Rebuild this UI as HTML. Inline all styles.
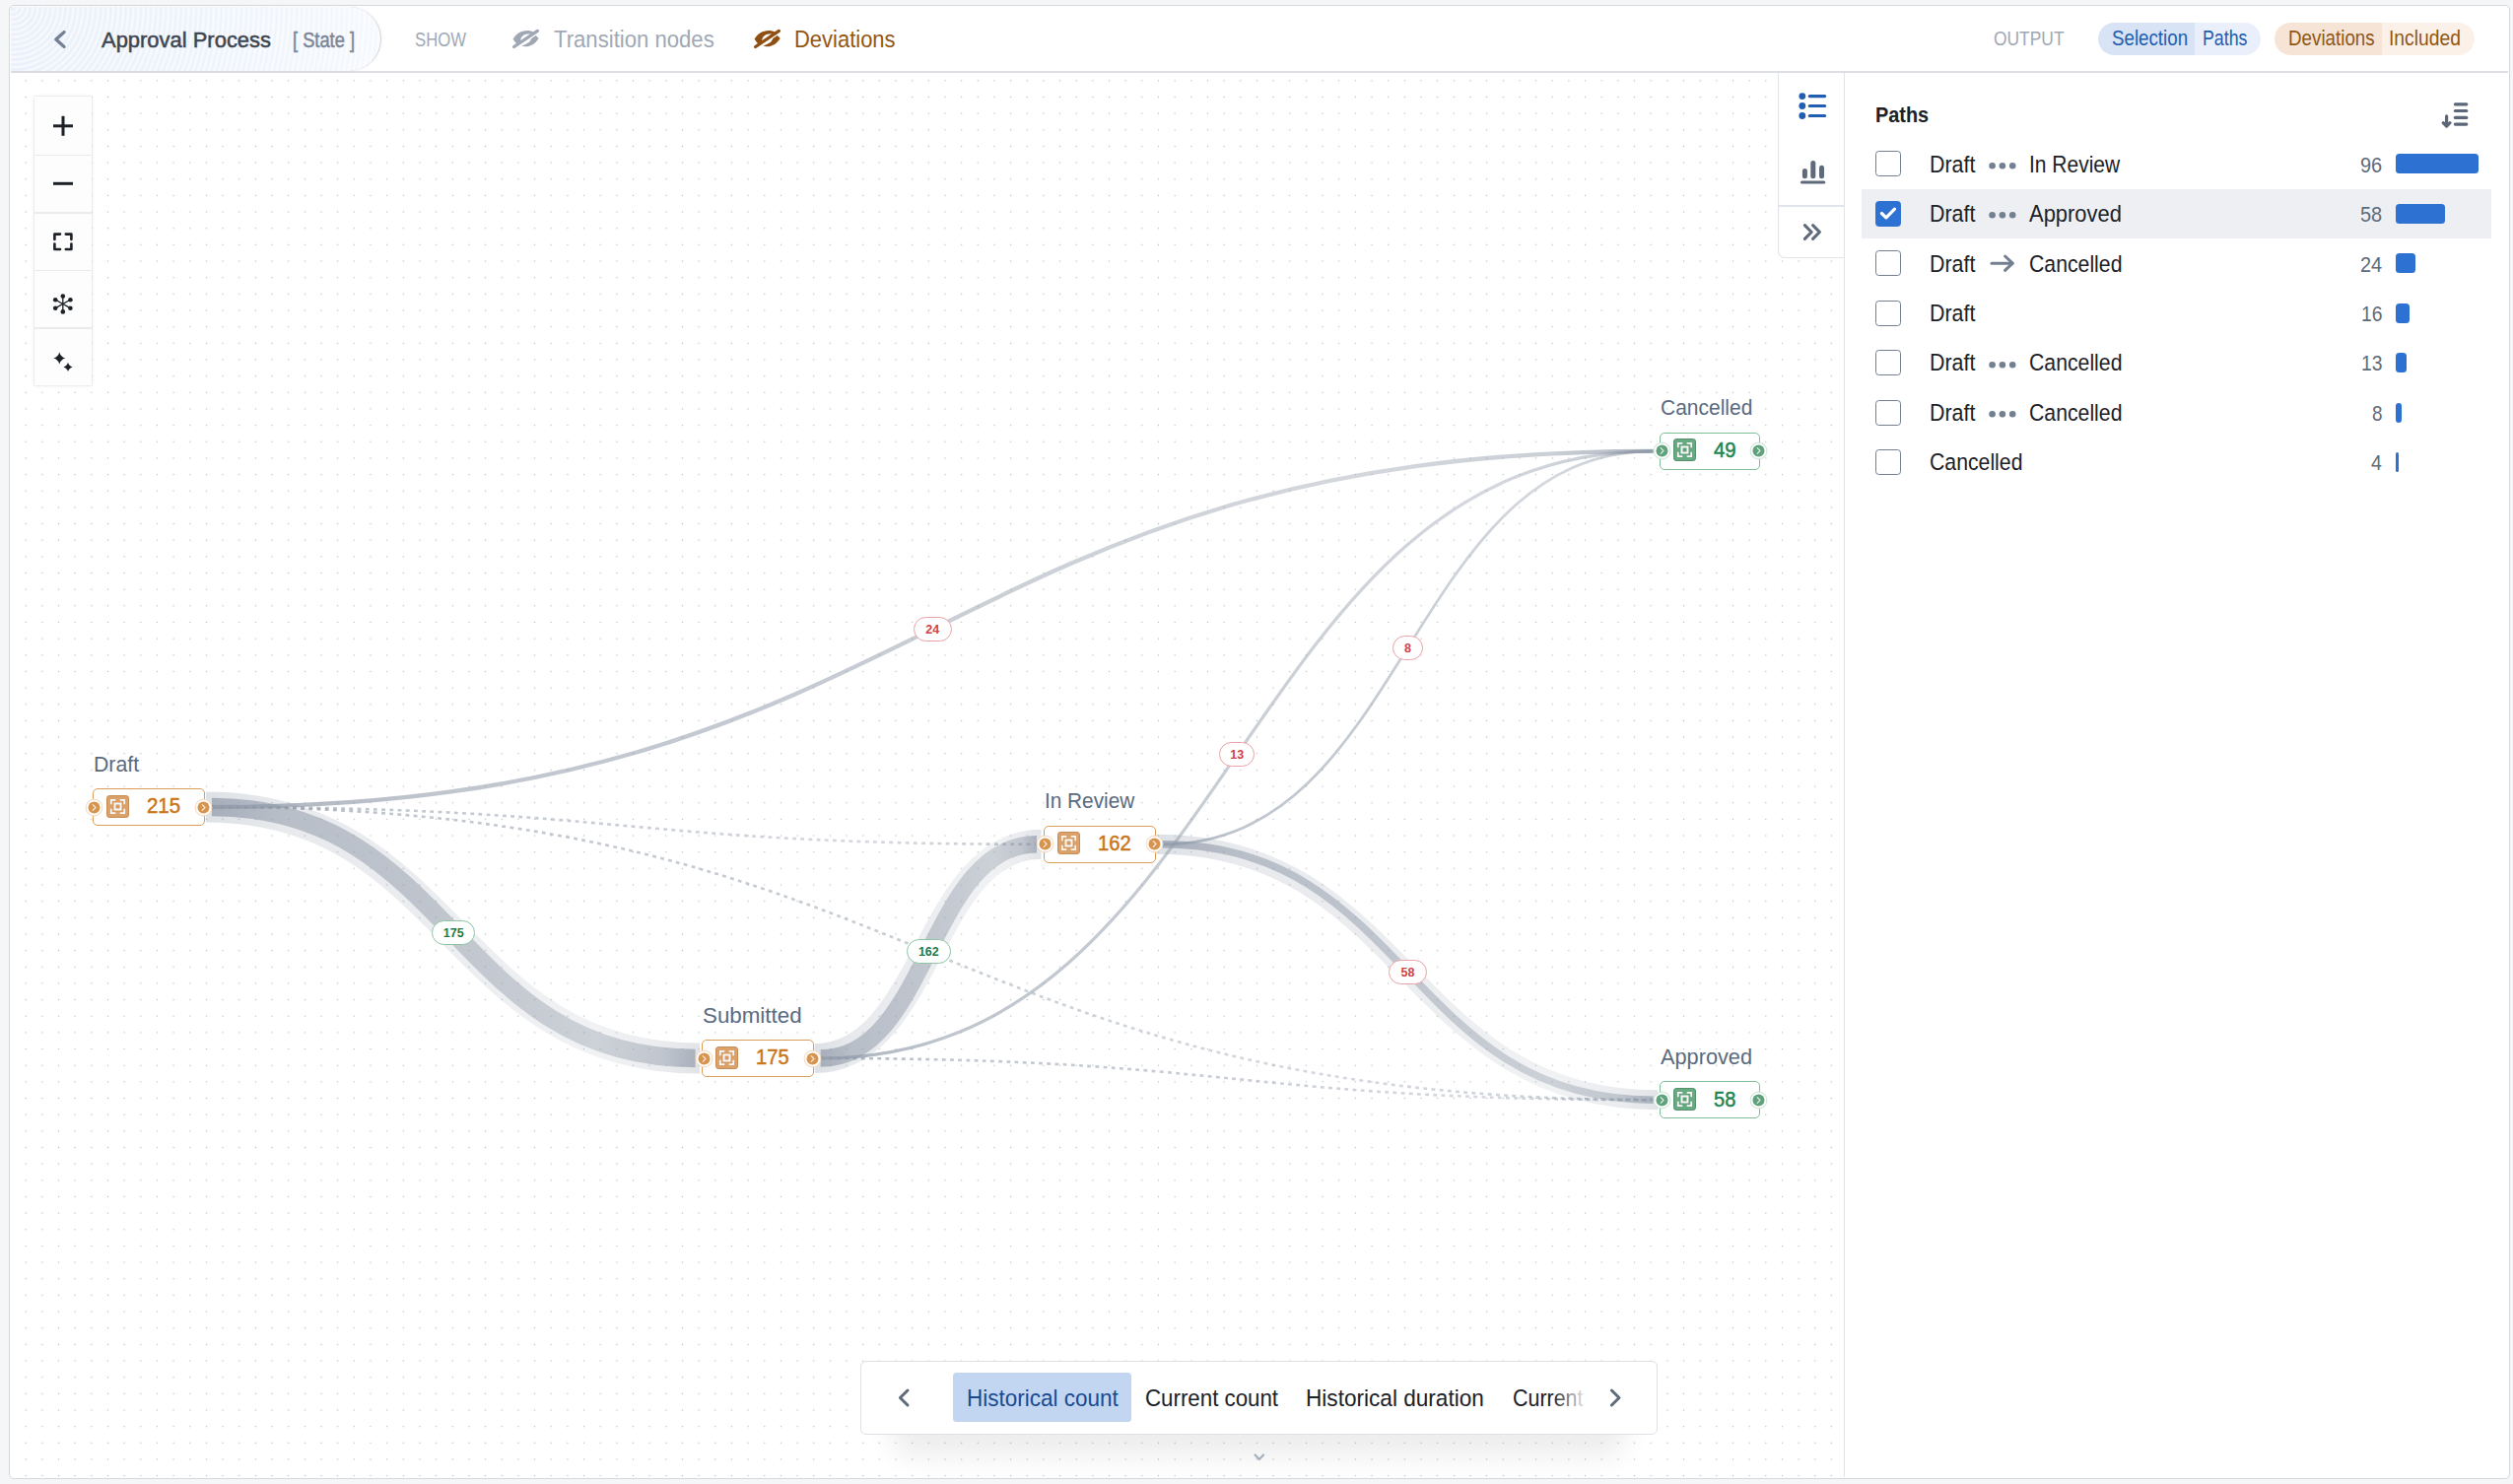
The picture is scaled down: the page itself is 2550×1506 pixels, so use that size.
<!DOCTYPE html><html><head><meta charset="utf-8"><title>Approval Process</title><style>

*{box-sizing:border-box;margin:0;padding:0}
html,body{margin:0;overflow:hidden;background:#f5f6f8;font-family:"Liberation Sans",Arial,sans-serif}
#root{position:relative;width:2550px;height:1506px;overflow:hidden;transform-origin:0 0}
.abs{position:absolute}
.t{position:absolute;white-space:nowrap;transform-origin:0 0}
.frame{position:absolute;left:9px;top:5.2px;width:2537.6px;height:1495.6px;border:1.8px solid #d7d8da;border-radius:5px;background:#fff;overflow:hidden}
.hdr-line{position:absolute;left:10.6px;top:72px;width:2534.4px;height:1.6px;background:#dcdee1}
.pill{position:absolute;left:10.5px;top:6.7px;width:376.3px;height:65.3px;border-radius:0 32.65px 32.65px 0;
 border:1.2px solid #d0d3d7;border-left:none;border-top:none;border-bottom:none;
 background:linear-gradient(to right,rgba(255,255,255,0) 0%,rgba(255,255,255,0.15) 50%,rgba(255,255,255,0.55) 100%),repeating-radial-gradient(circle at 2px 0px,#f8fafd 0px,#e8effb 2.5px,#f8fafd 5.1px);
 box-shadow:1px 0 3px rgba(0,0,0,0.04)}
.seg{position:absolute;top:22.7px;height:32.9px}
.canvas{position:absolute;left:10.6px;top:73.5px;width:1860px;height:1425.7px;border-bottom-left-radius:4px;
 background-image:radial-gradient(circle,#b9bdc4 0.55px,rgba(255,255,255,0) 1.05px);
 background-size:16.665px 16.665px;background-position:6.9px -0.5px}
.rpanel{position:absolute;left:1870.6px;top:73.5px;width:674.4px;height:1425.7px;background:#fff;border-left:1.6px solid #e1e4e8;border-bottom-right-radius:4px}
.strip{position:absolute;left:1804px;top:73.5px;width:67.4px;height:188px;background:#fff;border-left:1.5px solid #e1e4e8;border-bottom:1.5px solid #e1e4e8;border-bottom-left-radius:7px}
.cb{position:absolute;left:1903.4px;width:26px;height:26px;border:1.9px solid #738091;border-radius:3.5px;background:#fff}
.cb.on{background:#2d72d2;border-color:#2d72d2}
.cb.on svg{position:absolute;left:-1.9px;top:-1.9px}
.bar{position:absolute;left:2430.8px;height:20px;background:#2d72d2;border-radius:3.5px}
.ctl{position:absolute;left:34.6px;top:98.4px;width:58.2px;height:293px;background:#fdfdfd;box-shadow:0 0 0 0.8px rgba(0,0,0,0.04),0 0 4px rgba(0,0,0,0.10)}
.tb{position:absolute;left:873.4px;top:1380.9px;width:808.2px;height:75.1px;background:#fff;border:1.5px solid #dde0e5;border-radius:6px}
.tb-shadow{position:absolute;left:905px;top:1400px;width:745px;height:56px;border-radius:20px;box-shadow:0 22px 28px rgba(0,0,0,0.075)}
.node{position:absolute;height:38.3px;border-radius:5px;background:#fff}

</style></head><body><div id="root">
<div class="frame"></div>
<div class="canvas"></div>
<svg class="abs" style="left:0;top:0" width="1871" height="1499" viewBox="0 0 1871 1499">
<defs><linearGradient id="g0" gradientUnits="userSpaceOnUse" x1="214.9" y1="0" x2="1677.6" y2="0"><stop offset="0.0" stop-color="#8f99a8" stop-opacity="0.760"/><stop offset="0.15" stop-color="#8f99a8" stop-opacity="0.565"/><stop offset="0.45" stop-color="#8f99a8" stop-opacity="0.500"/><stop offset="0.8" stop-color="#8f99a8" stop-opacity="0.380"/><stop offset="0.93" stop-color="#8f99a8" stop-opacity="0.470"/><stop offset="1.0" stop-color="#8f99a8" stop-opacity="0.730"/></linearGradient><linearGradient id="g1" gradientUnits="userSpaceOnUse" x1="214.9" y1="0" x2="1052.0" y2="0"><stop offset="0.0" stop-color="#8f99a8" stop-opacity="0.720"/><stop offset="0.15" stop-color="#8f99a8" stop-opacity="0.555"/><stop offset="0.45" stop-color="#8f99a8" stop-opacity="0.500"/><stop offset="0.8" stop-color="#8f99a8" stop-opacity="0.380"/><stop offset="0.93" stop-color="#8f99a8" stop-opacity="0.470"/><stop offset="1.0" stop-color="#8f99a8" stop-opacity="0.690"/></linearGradient><linearGradient id="g2" gradientUnits="userSpaceOnUse" x1="214.9" y1="0" x2="1677.6" y2="0"><stop offset="0.0" stop-color="#8f99a8" stop-opacity="0.720"/><stop offset="0.15" stop-color="#8f99a8" stop-opacity="0.555"/><stop offset="0.45" stop-color="#8f99a8" stop-opacity="0.500"/><stop offset="0.8" stop-color="#8f99a8" stop-opacity="0.380"/><stop offset="0.93" stop-color="#8f99a8" stop-opacity="0.470"/><stop offset="1.0" stop-color="#8f99a8" stop-opacity="0.690"/></linearGradient><linearGradient id="g3" gradientUnits="userSpaceOnUse" x1="832.7" y1="0" x2="1677.6" y2="0"><stop offset="0.0" stop-color="#8f99a8" stop-opacity="0.720"/><stop offset="0.15" stop-color="#8f99a8" stop-opacity="0.555"/><stop offset="0.45" stop-color="#8f99a8" stop-opacity="0.500"/><stop offset="0.8" stop-color="#8f99a8" stop-opacity="0.380"/><stop offset="0.93" stop-color="#8f99a8" stop-opacity="0.470"/><stop offset="1.0" stop-color="#8f99a8" stop-opacity="0.690"/></linearGradient><linearGradient id="g4" gradientUnits="userSpaceOnUse" x1="832.7" y1="0" x2="1677.6" y2="0"><stop offset="0.0" stop-color="#8f99a8" stop-opacity="0.760"/><stop offset="0.15" stop-color="#8f99a8" stop-opacity="0.565"/><stop offset="0.45" stop-color="#8f99a8" stop-opacity="0.500"/><stop offset="0.8" stop-color="#8f99a8" stop-opacity="0.380"/><stop offset="0.93" stop-color="#8f99a8" stop-opacity="0.470"/><stop offset="1.0" stop-color="#8f99a8" stop-opacity="0.730"/></linearGradient><linearGradient id="g5" gradientUnits="userSpaceOnUse" x1="1179.4" y1="0" x2="1677.6" y2="0"><stop offset="0.0" stop-color="#8f99a8" stop-opacity="0.760"/><stop offset="0.15" stop-color="#8f99a8" stop-opacity="0.565"/><stop offset="0.45" stop-color="#8f99a8" stop-opacity="0.500"/><stop offset="0.8" stop-color="#8f99a8" stop-opacity="0.380"/><stop offset="0.93" stop-color="#8f99a8" stop-opacity="0.470"/><stop offset="1.0" stop-color="#8f99a8" stop-opacity="0.730"/></linearGradient><linearGradient id="g6" gradientUnits="userSpaceOnUse" x1="214.9" y1="0" x2="705.6" y2="0"><stop offset="0.0" stop-color="#8f99a8" stop-opacity="0.700"/><stop offset="0.15" stop-color="#8f99a8" stop-opacity="0.535"/><stop offset="0.45" stop-color="#8f99a8" stop-opacity="0.480"/><stop offset="0.8" stop-color="#8f99a8" stop-opacity="0.370"/><stop offset="0.93" stop-color="#8f99a8" stop-opacity="0.455"/><stop offset="1.0" stop-color="#8f99a8" stop-opacity="0.670"/></linearGradient><linearGradient id="h6" gradientUnits="userSpaceOnUse" x1="214.9" y1="0" x2="705.6" y2="0"><stop offset="0.0" stop-color="#8f99a8" stop-opacity="0.290"/><stop offset="0.15" stop-color="#8f99a8" stop-opacity="0.207"/><stop offset="0.45" stop-color="#8f99a8" stop-opacity="0.180"/><stop offset="0.8" stop-color="#8f99a8" stop-opacity="0.130"/><stop offset="0.93" stop-color="#8f99a8" stop-opacity="0.185"/><stop offset="1.0" stop-color="#8f99a8" stop-opacity="0.260"/></linearGradient><linearGradient id="g7" gradientUnits="userSpaceOnUse" x1="832.7" y1="0" x2="1052.0" y2="0"><stop offset="0.0" stop-color="#8f99a8" stop-opacity="0.700"/><stop offset="0.15" stop-color="#8f99a8" stop-opacity="0.535"/><stop offset="0.45" stop-color="#8f99a8" stop-opacity="0.480"/><stop offset="0.8" stop-color="#8f99a8" stop-opacity="0.370"/><stop offset="0.93" stop-color="#8f99a8" stop-opacity="0.455"/><stop offset="1.0" stop-color="#8f99a8" stop-opacity="0.670"/></linearGradient><linearGradient id="h7" gradientUnits="userSpaceOnUse" x1="832.7" y1="0" x2="1052.0" y2="0"><stop offset="0.0" stop-color="#8f99a8" stop-opacity="0.290"/><stop offset="0.15" stop-color="#8f99a8" stop-opacity="0.207"/><stop offset="0.45" stop-color="#8f99a8" stop-opacity="0.180"/><stop offset="0.8" stop-color="#8f99a8" stop-opacity="0.130"/><stop offset="0.93" stop-color="#8f99a8" stop-opacity="0.185"/><stop offset="1.0" stop-color="#8f99a8" stop-opacity="0.260"/></linearGradient><linearGradient id="g8" gradientUnits="userSpaceOnUse" x1="1179.4" y1="0" x2="1677.6" y2="0"><stop offset="0.0" stop-color="#8f99a8" stop-opacity="0.700"/><stop offset="0.15" stop-color="#8f99a8" stop-opacity="0.535"/><stop offset="0.45" stop-color="#8f99a8" stop-opacity="0.480"/><stop offset="0.8" stop-color="#8f99a8" stop-opacity="0.370"/><stop offset="0.93" stop-color="#8f99a8" stop-opacity="0.455"/><stop offset="1.0" stop-color="#8f99a8" stop-opacity="0.670"/></linearGradient><linearGradient id="h8" gradientUnits="userSpaceOnUse" x1="1179.4" y1="0" x2="1677.6" y2="0"><stop offset="0.0" stop-color="#8f99a8" stop-opacity="0.290"/><stop offset="0.15" stop-color="#8f99a8" stop-opacity="0.207"/><stop offset="0.45" stop-color="#8f99a8" stop-opacity="0.180"/><stop offset="0.8" stop-color="#8f99a8" stop-opacity="0.130"/><stop offset="0.93" stop-color="#8f99a8" stop-opacity="0.185"/><stop offset="1.0" stop-color="#8f99a8" stop-opacity="0.260"/></linearGradient></defs>
<g><path d="M208.90,819.00 C459.50,819.00 459.50,1074.00 710.10,1074.00" stroke="url(#h6)" stroke-width="31.11" fill="none"/><path d="M826.70,1074.00 C941.60,1074.00 941.60,856.80 1056.50,856.80" stroke="url(#h7)" stroke-width="29.87" fill="none"/><path d="M1173.40,856.80 C1427.75,856.80 1427.75,1116.20 1682.10,1116.20" stroke="url(#h8)" stroke-width="19.94" fill="none"/></g>
<g><path d="M214.90,819.00 C633.45,819.00 633.45,856.80 1052.00,856.80" stroke="url(#g1)" stroke-width="2.6" stroke-dasharray="3.8 4.4" fill="none"/><path d="M214.90,819.00 C946.25,819.00 946.25,1116.20 1677.60,1116.20" stroke="url(#g2)" stroke-width="2.6" stroke-dasharray="3.8 4.4" fill="none"/><path d="M832.70,1074.00 C1255.15,1074.00 1255.15,1116.20 1677.60,1116.20" stroke="url(#g3)" stroke-width="2.6" stroke-dasharray="3.8 4.4" fill="none"/></g>
<g><path d="M214.90,819.00 C946.25,819.00 946.25,457.80 1677.60,457.80" stroke="url(#g0)" stroke-width="4.29" fill="none"/><path d="M832.70,1074.00 C1255.15,1074.00 1255.15,457.80 1677.60,457.80" stroke="url(#g4)" stroke-width="3.24" fill="none"/><path d="M1179.40,856.80 C1428.50,856.80 1428.50,457.80 1677.60,457.80" stroke="url(#g5)" stroke-width="2.76" fill="none"/></g>
<g><path d="M214.90,819.00 C460.25,819.00 460.25,1074.00 705.60,1074.00" stroke="url(#g6)" stroke-width="18.71" fill="none"/><path d="M832.70,1074.00 C942.35,1074.00 942.35,856.80 1052.00,856.80" stroke="url(#g7)" stroke-width="17.47" fill="none"/><path d="M1179.40,856.80 C1428.50,856.80 1428.50,1116.20 1677.60,1116.20" stroke="url(#g8)" stroke-width="7.54" fill="none"/></g>
</svg>
<div class="ctl"></div>
<div class="abs" style="left:35px;top:156.55px;width:57.5px;height:1.5px;background:#ebebeb"></div>
<div class="abs" style="left:35px;top:215.05px;width:57.5px;height:1.5px;background:#ebebeb"></div>
<div class="abs" style="left:35px;top:273.65px;width:57.5px;height:1.5px;background:#ebebeb"></div>
<div class="abs" style="left:35px;top:332.45px;width:57.5px;height:1.5px;background:#ebebeb"></div>
<svg class="abs" style="left:34px;top:98px" width="60" height="295" viewBox="34 98 60 295"><g stroke="#1c2127" fill="none" stroke-width="3"><line x1="54" y1="127.8" x2="74" y2="127.8"/><line x1="64" y1="117.8" x2="64" y2="137.8"/><line x1="54" y1="186.3" x2="74" y2="186.3"/></g><g stroke="#1c2127" fill="none" stroke-width="2.6" stroke-linecap="round" stroke-linejoin="round"><polyline points="55.4,243 55.4,237.6 61,237.6"/><polyline points="66.8,237.6 72.4,237.6 72.4,243"/><polyline points="55.4,247.6 55.4,253 61,253"/><polyline points="66.8,253 72.4,253 72.4,247.6"/></g><g stroke="#1c2127" stroke-width="1.3" fill="#1c2127"><line x1="63.8" y1="300.6" x2="63.8" y2="316.4"/><line x1="56.4" y1="304.3" x2="71.2" y2="312.6"/><line x1="56.4" y1="312.6" x2="71.2" y2="304.3"/><circle cx="63.8" cy="300.6" r="2.3" stroke="none"/><circle cx="63.8" cy="316.4" r="2.3" stroke="none"/><circle cx="56.2" cy="304.2" r="2.3" stroke="none"/><circle cx="71.4" cy="304.2" r="2.3" stroke="none"/><circle cx="56.2" cy="312.7" r="2.3" stroke="none"/><circle cx="71.4" cy="312.7" r="2.3" stroke="none"/></g><g fill="#1c2127"><path d="M60.3,357.4 Q61.62,362.08 66.3,363.4 Q61.62,364.71999999999997 60.3,369.4 Q58.98,364.71999999999997 54.3,363.4 Q58.98,362.08 60.3,357.4 Z"/><path d="M69.0,367.79999999999995 Q70.012,371.388 73.6,372.4 Q70.012,373.412 69.0,377.0 Q67.988,373.412 64.4,372.4 Q67.988,371.388 69.0,367.79999999999995 Z"/></g></svg>
<div class="tb-shadow"></div>
<div class="tb"></div>
<div class="abs" style="left:966.6px;top:1393.4px;width:181.2px;height:50.1px;background:#c2d6f1;border-radius:3.5px"></div>
<svg class="abs" style="left:906px;top:1405px" width="22" height="27" viewBox="0 0 22 27"><polyline points="15,6 7.4,13.5 15,21" fill="none" stroke="#5f6b7c" stroke-width="3" stroke-linecap="round" stroke-linejoin="round"/></svg>
<svg class="abs" style="left:1628px;top:1405px" width="22" height="27" viewBox="0 0 22 27"><polyline points="7.4,6 15,13.5 7.4,21" fill="none" stroke="#5f6b7c" stroke-width="3" stroke-linecap="round" stroke-linejoin="round"/></svg>
<span class="t" style="left:981.20px;top:1406.00px;font-size:23.69px;line-height:26px;color:#184a90;transform:scaleX(0.9498);">Historical count</span>
<span class="t" style="left:1161.70px;top:1406.00px;font-size:23.69px;line-height:26px;color:#1c2127;transform:scaleX(0.9410);">Current count</span>
<span class="t" style="left:1325.10px;top:1406.00px;font-size:23.69px;line-height:26px;color:#1c2127;transform:scaleX(0.9541);">Historical duration</span>
<div class="abs" style="left:1525px;top:1395px;width:88px;height:45px;overflow:hidden"><div style="position:absolute;left:-1525px;top:-1395px"><span class="t" style="left:1534.60px;top:1406.00px;font-size:23.69px;line-height:26px;color:#1c2127;transform:scaleX(0.9049);">Current</span></div></div>
<div class="abs" style="left:1576px;top:1395px;width:38px;height:45px;background:linear-gradient(to right,rgba(255,255,255,0),#fff 92%)"></div>
<div class="abs" style="left:950px;top:1395px;width:17px;height:45px;background:linear-gradient(to right,#fff,rgba(255,255,255,0))"></div>
<svg class="abs" style="left:1270px;top:1472px" width="16" height="14" viewBox="0 0 16 14"><polyline points="3.5,4.5 7.8,9 12.1,4.5" fill="none" stroke="#a7b0bd" stroke-width="2.2" stroke-linecap="round" stroke-linejoin="round"/></svg>
<div class="rpanel"></div>
<div class="strip"></div>
<div class="abs" style="left:1804.7px;top:208.3px;width:66.8px;height:1.5px;background:#e1e4e8"></div>
<svg class="abs" style="left:1820px;top:88px" width="40" height="165" viewBox="1820 88 40 165"><g fill="#215db0"><circle cx="1828.8" cy="97.6" r="3.4"/><circle cx="1828.8" cy="107.5" r="3.4"/><circle cx="1828.8" cy="117.5" r="3.4"/></g><g stroke="#215db0" stroke-width="3.2" stroke-linecap="round"><line x1="1836.3" y1="97.6" x2="1851.6" y2="97.6"/><line x1="1836.3" y1="107.5" x2="1851.6" y2="107.5"/><line x1="1836.3" y1="117.5" x2="1851.6" y2="117.5"/></g><g stroke="#5f6b7c" stroke-linecap="round" fill="none"><line x1="1831.4" y1="173.5" x2="1831.4" y2="178.8" stroke-width="5"/><line x1="1839.8" y1="165.5" x2="1839.8" y2="178.8" stroke-width="5"/><line x1="1848.5" y1="170.2" x2="1848.5" y2="178.8" stroke-width="5"/><line x1="1828.5" y1="185" x2="1850.8" y2="185" stroke-width="3.1"/></g><g stroke="#5f6b7c" stroke-width="3.1" stroke-linecap="round" stroke-linejoin="round" fill="none"><polyline points="1831.4,228.6 1838.2,235.5 1831.4,242.4"/><polyline points="1839.6,228.6 1846.4,235.5 1839.6,242.4"/></g></svg>
<span class="t" style="left:1902.60px;top:104.00px;font-size:22.24px;line-height:25px;color:#1c2127;font-weight:700;transform:scaleX(0.8936);">Paths</span>
<svg class="abs" style="left:2474px;top:100px" width="34" height="32" viewBox="2474 100 34 32"><g stroke="#5b6678" stroke-width="3.2" stroke-linecap="round" fill="none"><line x1="2491.4" y1="105.8" x2="2502.8" y2="105.8"/><line x1="2491.4" y1="112.5" x2="2502.8" y2="112.5"/><line x1="2491.4" y1="119.4" x2="2502.8" y2="119.4"/><line x1="2491.4" y1="126.1" x2="2502.8" y2="126.1"/><line x1="2482.6" y1="117.8" x2="2482.6" y2="126.5"/><polyline points="2479.2,124.6 2482.6,128 2486,124.6" stroke-linejoin="round"/></g></svg>
<div class="abs" style="left:1889.3px;top:192px;width:638.6px;height:49.6px;background:#edeff2"></div>
<div class="cb" style="top:153.40px"></div>
<span class="t" style="left:1957.80px;top:154.00px;font-size:23.69px;line-height:26px;color:#1c2127;transform:scaleX(0.9036);">Draft</span>
<svg class="abs" style="left:2016px;top:162.95px" width="32" height="10" viewBox="0 0 32 10"><g fill="#738091"><circle cx="5.6" cy="5.2" r="3.3"/><circle cx="15.9" cy="5.2" r="3.3"/><circle cx="26.2" cy="5.2" r="3.3"/></g></svg>
<span class="t" style="left:2059.30px;top:154.00px;font-size:23.69px;line-height:26px;color:#1c2127;transform:scaleX(0.8860);">In Review</span>
<span class="t" style="left:2395.00px;top:154.00px;font-size:22.67px;line-height:26px;color:#5f6b7c;transform:scaleX(0.8801);">96</span>
<div class="bar" style="top:156.35px;width:83.8px"></div>
<div class="cb on" style="top:203.85px"><svg width="26" height="26" viewBox="0 0 26 26"><polyline points="6.4,13.5 10.9,17.9 19.5,9.1" fill="none" stroke="#fff" stroke-width="3.2" stroke-linecap="round" stroke-linejoin="round"/></svg></div>
<span class="t" style="left:1957.80px;top:204.00px;font-size:23.69px;line-height:26px;color:#1c2127;transform:scaleX(0.9036);">Draft</span>
<svg class="abs" style="left:2016px;top:213.40px" width="32" height="10" viewBox="0 0 32 10"><g fill="#738091"><circle cx="5.6" cy="5.2" r="3.3"/><circle cx="15.9" cy="5.2" r="3.3"/><circle cx="26.2" cy="5.2" r="3.3"/></g></svg>
<span class="t" style="left:2059.30px;top:204.00px;font-size:23.69px;line-height:26px;color:#1c2127;transform:scaleX(0.9260);">Approved</span>
<span class="t" style="left:2395.00px;top:204.00px;font-size:22.67px;line-height:26px;color:#5f6b7c;transform:scaleX(0.8801);">58</span>
<div class="bar" style="top:206.80px;width:50.1px"></div>
<div class="cb" style="top:254.30px"></div>
<span class="t" style="left:1957.80px;top:255.00px;font-size:23.69px;line-height:26px;color:#1c2127;transform:scaleX(0.9036);">Draft</span>
<svg class="abs" style="left:2016px;top:256.25px" width="32" height="22" viewBox="0 0 32 22"><g fill="none" stroke="#738091" stroke-width="3" stroke-linecap="round" stroke-linejoin="round"><line x1="5" y1="11.2" x2="26" y2="11.2"/><polyline points="18.6,4 26.2,11.2 18.6,18.4"/></g></svg>
<span class="t" style="left:2059.30px;top:255.00px;font-size:23.69px;line-height:26px;color:#1c2127;transform:scaleX(0.8968);">Cancelled</span>
<span class="t" style="left:2395.00px;top:255.00px;font-size:22.67px;line-height:26px;color:#5f6b7c;transform:scaleX(0.8801);">24</span>
<div class="bar" style="top:257.25px;width:20.7px"></div>
<div class="cb" style="top:304.75px"></div>
<span class="t" style="left:1957.80px;top:305.00px;font-size:23.69px;line-height:26px;color:#1c2127;transform:scaleX(0.9036);">Draft</span>
<span class="t" style="left:2395.70px;top:305.00px;font-size:22.67px;line-height:26px;color:#5f6b7c;transform:scaleX(0.8523);">16</span>
<div class="bar" style="top:307.70px;width:14.1px"></div>
<div class="cb" style="top:355.20px"></div>
<span class="t" style="left:1957.80px;top:355.00px;font-size:23.69px;line-height:26px;color:#1c2127;transform:scaleX(0.9036);">Draft</span>
<svg class="abs" style="left:2016px;top:364.75px" width="32" height="10" viewBox="0 0 32 10"><g fill="#738091"><circle cx="5.6" cy="5.2" r="3.3"/><circle cx="15.9" cy="5.2" r="3.3"/><circle cx="26.2" cy="5.2" r="3.3"/></g></svg>
<span class="t" style="left:2059.30px;top:355.00px;font-size:23.69px;line-height:26px;color:#1c2127;transform:scaleX(0.8968);">Cancelled</span>
<span class="t" style="left:2395.70px;top:355.00px;font-size:22.67px;line-height:26px;color:#5f6b7c;transform:scaleX(0.8523);">13</span>
<div class="bar" style="top:358.15px;width:11.3px"></div>
<div class="cb" style="top:405.65px"></div>
<span class="t" style="left:1957.80px;top:406.00px;font-size:23.69px;line-height:26px;color:#1c2127;transform:scaleX(0.9036);">Draft</span>
<svg class="abs" style="left:2016px;top:415.20px" width="32" height="10" viewBox="0 0 32 10"><g fill="#738091"><circle cx="5.6" cy="5.2" r="3.3"/><circle cx="15.9" cy="5.2" r="3.3"/><circle cx="26.2" cy="5.2" r="3.3"/></g></svg>
<span class="t" style="left:2059.30px;top:406.00px;font-size:23.69px;line-height:26px;color:#1c2127;transform:scaleX(0.8968);">Cancelled</span>
<span class="t" style="left:2406.70px;top:406.00px;font-size:22.67px;line-height:26px;color:#5f6b7c;transform:scaleX(0.8344);">8</span>
<div class="bar" style="top:408.60px;width:6.5px"></div>
<div class="cb" style="top:456.10px"></div>
<span class="t" style="left:1957.80px;top:456.00px;font-size:23.69px;line-height:26px;color:#1c2127;transform:scaleX(0.8968);">Cancelled</span>
<span class="t" style="left:2406.40px;top:456.00px;font-size:22.67px;line-height:26px;color:#5f6b7c;transform:scaleX(0.8582);">4</span>
<div class="bar" style="top:459.05px;width:3.3px"></div>
<div class="hdr-line"></div>
<div class="pill"></div>
<svg class="abs" style="left:50px;top:26px" width="22" height="28" viewBox="0 0 22 28"><polyline points="15.0,6.6 6.8,14 15.0,21.4" fill="none" stroke="#738093" stroke-width="3.3" stroke-linecap="round" stroke-linejoin="round"/></svg>
<span class="t" style="left:102.70px;top:27.00px;font-size:22.82px;line-height:26px;color:#3d4550;-webkit-text-stroke:0.5px #3d4550;transform:scaleX(0.9622);">Approval Process</span>
<span class="t" style="left:297.10px;top:28.00px;font-size:21.80px;line-height:25px;color:#7b8798;-webkit-text-stroke:0.5px #7b8798;transform:scaleX(0.8382);">[ State ]</span>
<span class="t" style="left:421.20px;top:28.00px;font-size:21.08px;line-height:23px;color:#a0a8b4;transform:scaleX(0.7918);">SHOW</span>
<svg class="abs" style="left:518.00px;top:27.00px" width="31" height="25" viewBox="518 27 31 25"><path d="M520.6,39.6 C523.5,34.3 529,31.1 535,31.0 C537.3,31 539.4,31.5 541.3,32.5 L524.6,44.8 C523,43.4 521.6,41.7 520.6,39.6 Z" fill="#a0a7b4"/><path d="M528.3,41.6 C528.1,37.0 531.8,34.2 538.0,34.3 L530.6,41.6 Z" fill="#fff"/><path d="M529.4,46.6 C535.5,48.8 542.6,45.5 546.7,38.9 L543.8,36.1 L539.3,38.9 C538.4,40.6 538,42 536.6,43.0 C534.5,44.5 531.8,45.4 529.4,46.6 Z" fill="#a0a7b4"/><path d="M521.6,47.5 L545.4,31.4" stroke="#a0a7b4" stroke-width="3.3" stroke-linecap="round"/></svg>
<span class="t" style="left:561.60px;top:27.00px;font-size:23.55px;line-height:26px;color:#a0a8b4;transform:scaleX(0.9394);">Transition nodes</span>
<svg class="abs" style="left:763.20px;top:27.00px" width="31" height="25" viewBox="518 27 31 25"><path d="M520.6,39.6 C523.5,34.3 529,31.1 535,31.0 C537.3,31 539.4,31.5 541.3,32.5 L524.6,44.8 C523,43.4 521.6,41.7 520.6,39.6 Z" fill="#8f4f12"/><path d="M528.3,41.6 C528.1,37.0 531.8,34.2 538.0,34.3 L530.6,41.6 Z" fill="#fff"/><path d="M529.4,46.6 C535.5,48.8 542.6,45.5 546.7,38.9 L543.8,36.1 L539.3,38.9 C538.4,40.6 538,42 536.6,43.0 C534.5,44.5 531.8,45.4 529.4,46.6 Z" fill="#8f4f12"/><path d="M521.6,47.5 L545.4,31.4" stroke="#8f4f12" stroke-width="3.3" stroke-linecap="round"/></svg>
<span class="t" style="left:806.00px;top:27.00px;font-size:23.55px;line-height:26px;color:#935610;transform:scaleX(0.9330);">Deviations</span>
<span class="t" style="left:2023.00px;top:28.00px;font-size:19.77px;line-height:22px;color:#a0a8b4;transform:scaleX(0.8800);">OUTPUT</span>
<div class="seg" style="left:2128.5px;width:99px;background:#d8e3f6;border-radius:16.5px 0 0 16.5px"></div>
<div class="seg" style="left:2226.7px;width:67.3px;background:#e9effb;border-radius:0 16.5px 16.5px 0"></div>
<span class="t" style="left:2142.80px;top:26.00px;font-size:21.80px;line-height:25px;color:#215db0;transform:scaleX(0.8594);">Selection</span>
<span class="t" style="left:2235.10px;top:26.00px;font-size:21.80px;line-height:25px;color:#215db0;transform:scaleX(0.8142);">Paths</span>
<div class="seg" style="left:2307.7px;width:109.6px;background:#f6e4d7;border-radius:16.5px 0 0 16.5px"></div>
<div class="seg" style="left:2416.5px;width:94.1px;background:#fbf1e9;border-radius:0 16.5px 16.5px 0"></div>
<span class="t" style="left:2322.00px;top:26.00px;font-size:21.80px;line-height:25px;color:#935610;transform:scaleX(0.8613);">Deviations</span>
<span class="t" style="left:2424.00px;top:26.00px;font-size:21.80px;line-height:25px;color:#935610;transform:scaleX(0.8858);">Included</span>
<div class="abs" style="left:926.75px;top:625.85px;width:39.0px;height:25.1px;border:1.5px solid #eba3a7;border-radius:12.6px;background:#fff"></div>
<span class="t" style="left:939.30px;top:632.00px;font-size:12.50px;line-height:14px;color:#cd4246;font-weight:700;">24</span>
<div class="abs" style="left:1236.85px;top:753.35px;width:36.6px;height:25.1px;border:1.5px solid #eba3a7;border-radius:12.6px;background:#fff"></div>
<span class="t" style="left:1248.20px;top:759.00px;font-size:12.50px;line-height:14px;color:#cd4246;font-weight:700;">13</span>
<div class="abs" style="left:1412.70px;top:644.75px;width:31.6px;height:25.1px;border:1.5px solid #eba3a7;border-radius:12.6px;background:#fff"></div>
<span class="t" style="left:1425.03px;top:651.00px;font-size:12.50px;line-height:14px;color:#cd4246;font-weight:700;">8</span>
<div class="abs" style="left:438.25px;top:933.95px;width:44.0px;height:25.1px;border:1.5px solid #8ec5a3;border-radius:12.6px;background:#fff"></div>
<span class="t" style="left:449.83px;top:940.00px;font-size:12.50px;line-height:14px;color:#1c7a47;font-weight:700;">175</span>
<div class="abs" style="left:920.05px;top:952.85px;width:44.6px;height:25.1px;border:1.5px solid #8ec5a3;border-radius:12.6px;background:#fff"></div>
<span class="t" style="left:931.93px;top:959.00px;font-size:12.50px;line-height:14px;color:#1c7a47;font-weight:700;">162</span>
<div class="abs" style="left:1408.70px;top:973.95px;width:39.6px;height:25.1px;border:1.5px solid #eba3a7;border-radius:12.6px;background:#fff"></div>
<span class="t" style="left:1421.55px;top:980.00px;font-size:12.50px;line-height:14px;color:#cd4246;font-weight:700;">58</span>
<span class="t" style="left:95.10px;top:762.00px;font-size:22.82px;line-height:26px;color:#5a6a80;transform:scaleX(0.9320);">Draft</span>
<div class="node" style="left:94.10px;top:799.85px;width:114.00px;border:1.4px solid #dc9c5a"></div>
<svg class="abs" style="left:107.80px;top:806.60px" width="23" height="23" viewBox="0 0 23 23"><rect x="0.5" y="0.5" width="22" height="22" rx="2.6" fill="#dca168" stroke="#c78d57" stroke-width="1"/><rect x="6.3" y="6.3" width="10.4" height="10.4" fill="#cf925a" opacity="0.55"/><g fill="none" stroke="#f7f7f7" stroke-width="1.7"><polyline points="4.8,9.3 4.8,4.8 9.3,4.8"/><polyline points="13.7,4.8 18.2,4.8 18.2,9.3"/><polyline points="4.8,13.7 4.8,18.2 9.3,18.2"/><polyline points="13.7,18.2 18.2,18.2 18.2,13.7"/><rect x="8.5" y="8.5" width="6" height="6" stroke-width="2"/></g></svg>
<span class="t" style="left:149.20px;top:805.00px;font-size:21.80px;line-height:25px;color:#c87619;-webkit-text-stroke:0.5px #c87619;transform:scaleX(0.9379);">215</span>
<svg class="abs" style="left:86.20px;top:809.50px" width="19" height="19" viewBox="0 0 19 19"><circle cx="9.5" cy="9.5" r="8.4" fill="#fff" stroke="#f3dcc4" stroke-width="1.1"/><circle cx="9.5" cy="9.5" r="6.0" fill="#d7944f"/><polyline points="8.2,6.6 11,9.5 8.2,12.4" fill="none" stroke="#fff" stroke-opacity="0.8" stroke-width="1.2" stroke-linecap="round" stroke-linejoin="round"/></svg>
<svg class="abs" style="left:197.00px;top:809.50px" width="19" height="19" viewBox="0 0 19 19"><circle cx="9.5" cy="9.5" r="8.4" fill="#fff" stroke="#f3dcc4" stroke-width="1.1"/><circle cx="9.5" cy="9.5" r="6.0" fill="#d7944f"/><polyline points="8.2,6.6 11,9.5 8.2,12.4" fill="none" stroke="#fff" stroke-opacity="0.8" stroke-width="1.2" stroke-linecap="round" stroke-linejoin="round"/></svg>
<span class="t" style="left:713.40px;top:1017.00px;font-size:22.82px;line-height:26px;color:#5a6a80;transform:scaleX(0.9791);">Submitted</span>
<div class="node" style="left:712.40px;top:1054.85px;width:113.50px;border:1.4px solid #dc9c5a"></div>
<svg class="abs" style="left:726.10px;top:1061.60px" width="23" height="23" viewBox="0 0 23 23"><rect x="0.5" y="0.5" width="22" height="22" rx="2.6" fill="#dca168" stroke="#c78d57" stroke-width="1"/><rect x="6.3" y="6.3" width="10.4" height="10.4" fill="#cf925a" opacity="0.55"/><g fill="none" stroke="#f7f7f7" stroke-width="1.7"><polyline points="4.8,9.3 4.8,4.8 9.3,4.8"/><polyline points="13.7,4.8 18.2,4.8 18.2,9.3"/><polyline points="4.8,13.7 4.8,18.2 9.3,18.2"/><polyline points="13.7,18.2 18.2,18.2 18.2,13.7"/><rect x="8.5" y="8.5" width="6" height="6" stroke-width="2"/></g></svg>
<span class="t" style="left:767.40px;top:1060.00px;font-size:21.80px;line-height:25px;color:#c87619;-webkit-text-stroke:0.5px #c87619;transform:scaleX(0.9242);">175</span>
<svg class="abs" style="left:704.50px;top:1064.50px" width="19" height="19" viewBox="0 0 19 19"><circle cx="9.5" cy="9.5" r="8.4" fill="#fff" stroke="#f3dcc4" stroke-width="1.1"/><circle cx="9.5" cy="9.5" r="6.0" fill="#d7944f"/><polyline points="8.2,6.6 11,9.5 8.2,12.4" fill="none" stroke="#fff" stroke-opacity="0.8" stroke-width="1.2" stroke-linecap="round" stroke-linejoin="round"/></svg>
<svg class="abs" style="left:814.80px;top:1064.50px" width="19" height="19" viewBox="0 0 19 19"><circle cx="9.5" cy="9.5" r="8.4" fill="#fff" stroke="#f3dcc4" stroke-width="1.1"/><circle cx="9.5" cy="9.5" r="6.0" fill="#d7944f"/><polyline points="8.2,6.6 11,9.5 8.2,12.4" fill="none" stroke="#fff" stroke-opacity="0.8" stroke-width="1.2" stroke-linecap="round" stroke-linejoin="round"/></svg>
<span class="t" style="left:1059.80px;top:799.00px;font-size:22.82px;line-height:26px;color:#5a6a80;transform:scaleX(0.9108);">In Review</span>
<div class="node" style="left:1058.80px;top:837.65px;width:113.80px;border:1.4px solid #dc9c5a"></div>
<svg class="abs" style="left:1072.50px;top:844.40px" width="23" height="23" viewBox="0 0 23 23"><rect x="0.5" y="0.5" width="22" height="22" rx="2.6" fill="#dca168" stroke="#c78d57" stroke-width="1"/><rect x="6.3" y="6.3" width="10.4" height="10.4" fill="#cf925a" opacity="0.55"/><g fill="none" stroke="#f7f7f7" stroke-width="1.7"><polyline points="4.8,9.3 4.8,4.8 9.3,4.8"/><polyline points="13.7,4.8 18.2,4.8 18.2,9.3"/><polyline points="4.8,13.7 4.8,18.2 9.3,18.2"/><polyline points="13.7,18.2 18.2,18.2 18.2,13.7"/><rect x="8.5" y="8.5" width="6" height="6" stroke-width="2"/></g></svg>
<span class="t" style="left:1114.20px;top:843.00px;font-size:21.80px;line-height:25px;color:#c87619;-webkit-text-stroke:0.5px #c87619;transform:scaleX(0.9242);">162</span>
<svg class="abs" style="left:1050.90px;top:847.30px" width="19" height="19" viewBox="0 0 19 19"><circle cx="9.5" cy="9.5" r="8.4" fill="#fff" stroke="#f3dcc4" stroke-width="1.1"/><circle cx="9.5" cy="9.5" r="6.0" fill="#d7944f"/><polyline points="8.2,6.6 11,9.5 8.2,12.4" fill="none" stroke="#fff" stroke-opacity="0.8" stroke-width="1.2" stroke-linecap="round" stroke-linejoin="round"/></svg>
<svg class="abs" style="left:1161.50px;top:847.30px" width="19" height="19" viewBox="0 0 19 19"><circle cx="9.5" cy="9.5" r="8.4" fill="#fff" stroke="#f3dcc4" stroke-width="1.1"/><circle cx="9.5" cy="9.5" r="6.0" fill="#d7944f"/><polyline points="8.2,6.6 11,9.5 8.2,12.4" fill="none" stroke="#fff" stroke-opacity="0.8" stroke-width="1.2" stroke-linecap="round" stroke-linejoin="round"/></svg>
<span class="t" style="left:1685.40px;top:400.00px;font-size:22.82px;line-height:26px;color:#5a6a80;transform:scaleX(0.9203);">Cancelled</span>
<div class="node" style="left:1684.40px;top:438.65px;width:101.80px;border:1.4px solid #7fbf98"></div>
<svg class="abs" style="left:1698.10px;top:445.40px" width="23" height="23" viewBox="0 0 23 23"><rect x="0.5" y="0.5" width="22" height="22" rx="2.6" fill="#67a981" stroke="#55916d" stroke-width="1"/><rect x="6.3" y="6.3" width="10.4" height="10.4" fill="#579a73" opacity="0.55"/><g fill="none" stroke="#f7f7f7" stroke-width="1.7"><polyline points="4.8,9.3 4.8,4.8 9.3,4.8"/><polyline points="13.7,4.8 18.2,4.8 18.2,9.3"/><polyline points="4.8,13.7 4.8,18.2 9.3,18.2"/><polyline points="13.7,18.2 18.2,18.2 18.2,13.7"/><rect x="8.5" y="8.5" width="6" height="6" stroke-width="2"/></g></svg>
<span class="t" style="left:1738.90px;top:444.00px;font-size:21.80px;line-height:25px;color:#238551;-webkit-text-stroke:0.5px #238551;transform:scaleX(0.9359);">49</span>
<svg class="abs" style="left:1676.50px;top:448.30px" width="19" height="19" viewBox="0 0 19 19"><circle cx="9.5" cy="9.5" r="8.4" fill="#fff" stroke="#cfe7d8" stroke-width="1.1"/><circle cx="9.5" cy="9.5" r="6.0" fill="#5fa27b"/><polyline points="8.2,6.6 11,9.5 8.2,12.4" fill="none" stroke="#fff" stroke-opacity="0.8" stroke-width="1.2" stroke-linecap="round" stroke-linejoin="round"/></svg>
<svg class="abs" style="left:1775.10px;top:448.30px" width="19" height="19" viewBox="0 0 19 19"><circle cx="9.5" cy="9.5" r="8.4" fill="#fff" stroke="#cfe7d8" stroke-width="1.1"/><circle cx="9.5" cy="9.5" r="6.0" fill="#5fa27b"/><polyline points="8.2,6.6 11,9.5 8.2,12.4" fill="none" stroke="#fff" stroke-opacity="0.8" stroke-width="1.2" stroke-linecap="round" stroke-linejoin="round"/></svg>
<span class="t" style="left:1685.40px;top:1059.00px;font-size:22.82px;line-height:26px;color:#5a6a80;transform:scaleX(0.9522);">Approved</span>
<div class="node" style="left:1684.40px;top:1097.05px;width:101.80px;border:1.4px solid #7fbf98"></div>
<svg class="abs" style="left:1698.10px;top:1103.80px" width="23" height="23" viewBox="0 0 23 23"><rect x="0.5" y="0.5" width="22" height="22" rx="2.6" fill="#67a981" stroke="#55916d" stroke-width="1"/><rect x="6.3" y="6.3" width="10.4" height="10.4" fill="#579a73" opacity="0.55"/><g fill="none" stroke="#f7f7f7" stroke-width="1.7"><polyline points="4.8,9.3 4.8,4.8 9.3,4.8"/><polyline points="13.7,4.8 18.2,4.8 18.2,9.3"/><polyline points="4.8,13.7 4.8,18.2 9.3,18.2"/><polyline points="13.7,18.2 18.2,18.2 18.2,13.7"/><rect x="8.5" y="8.5" width="6" height="6" stroke-width="2"/></g></svg>
<span class="t" style="left:1739.30px;top:1103.00px;font-size:21.80px;line-height:25px;color:#238551;-webkit-text-stroke:0.5px #238551;transform:scaleX(0.9194);">58</span>
<svg class="abs" style="left:1676.50px;top:1106.70px" width="19" height="19" viewBox="0 0 19 19"><circle cx="9.5" cy="9.5" r="8.4" fill="#fff" stroke="#cfe7d8" stroke-width="1.1"/><circle cx="9.5" cy="9.5" r="6.0" fill="#5fa27b"/><polyline points="8.2,6.6 11,9.5 8.2,12.4" fill="none" stroke="#fff" stroke-opacity="0.8" stroke-width="1.2" stroke-linecap="round" stroke-linejoin="round"/></svg>
<svg class="abs" style="left:1775.10px;top:1106.70px" width="19" height="19" viewBox="0 0 19 19"><circle cx="9.5" cy="9.5" r="8.4" fill="#fff" stroke="#cfe7d8" stroke-width="1.1"/><circle cx="9.5" cy="9.5" r="6.0" fill="#5fa27b"/><polyline points="8.2,6.6 11,9.5 8.2,12.4" fill="none" stroke="#fff" stroke-opacity="0.8" stroke-width="1.2" stroke-linecap="round" stroke-linejoin="round"/></svg>
</div><script>(function(){var w=window.innerWidth;if(w&&Math.abs(w-2550)>2){var r=document.getElementById("root");r.style.transform="scale("+(w/2550)+")";}})();</script></body></html>
